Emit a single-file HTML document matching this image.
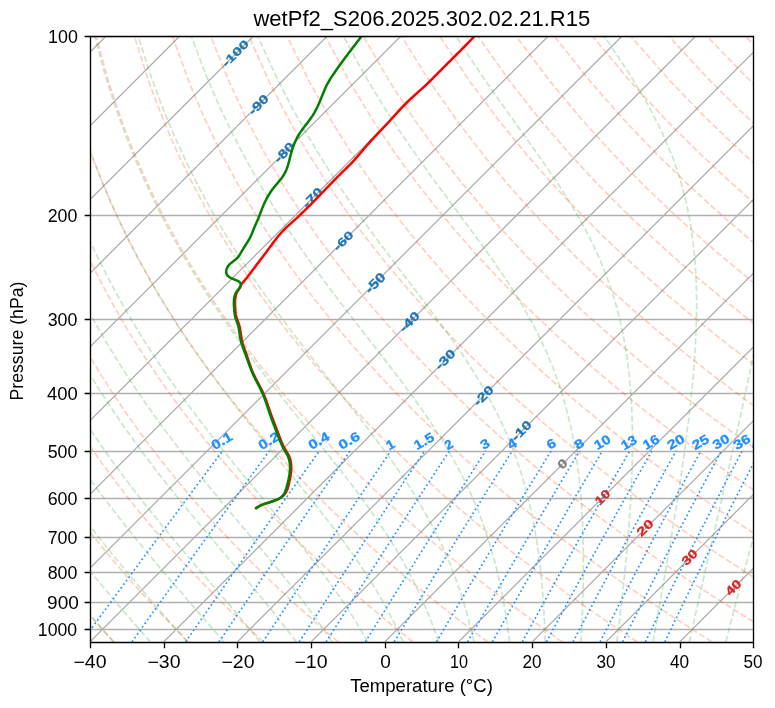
<!DOCTYPE html><html><head><meta charset="utf-8"><title>wetPf2_S206.2025.302.02.21.R15</title><style>html,body{margin:0;padding:0;background:#fff;width:775px;height:708px;overflow:hidden}svg{display:block;will-change:transform}text{font-family:"Liberation Sans",sans-serif}</style></head><body>
<svg width="775" height="708" viewBox="0 0 775 708">
<rect width="775" height="708" fill="#fff"/>
<defs><clipPath id="c"><rect x="89.9" y="36.25" width="663.4" height="605.67"/></clipPath></defs>
<g clip-path="url(#c)" fill="none">
<path d="M-573.5 641.92L32.17 36.25M-499.79 641.92L105.88 36.25M-426.08 641.92L179.59 36.25M-352.37 641.92L253.3 36.25M-278.66 641.92L327.01 36.25M-204.94 641.92L400.73 36.25M-131.23 641.92L474.44 36.25M-57.52 641.92L548.15 36.25M16.19 641.92L621.86 36.25M89.9 641.92L695.57 36.25M163.61 641.92L769.28 36.25M237.32 641.92L842.99 36.25M311.03 641.92L916.7 36.25M384.74 641.92L990.41 36.25M458.46 641.92L1064.13 36.25M532.17 641.92L1137.84 36.25M605.88 641.92L1211.55 36.25M679.59 641.92L1285.26 36.25M753.3 641.92L1358.97 36.25" stroke="#acacac" stroke-width="1.25"/>
<path d="M90.5 36.5H753.5M90.5 215.5H753.5M90.5 319.5H753.5M90.5 393.5H753.5M90.5 451.5H753.5M90.5 498.5H753.5M90.5 537.5H753.5M90.5 572.5H753.5M90.5 602.5H753.5M90.5 629.5H753.5" stroke="#b0b0b0" stroke-width="1.333"/>
<g stroke="#ff4500" stroke-opacity="0.25" stroke-width="1.667" stroke-dasharray="6.17 2.67">
<path d="M114.02 641.92 109.57 637.12 105.08 632.23 100.56 627.24 96 622.16 91.41 616.97 86.78 611.68 82.11 606.27 77.4 600.75 72.66 595.11 67.87 589.34 63.05 583.44 58.18 577.4 53.28 571.22 48.33 564.88 43.34 558.39 38.31 551.72 33.23 544.88 28.1 537.86 22.94 530.63 17.72 523.2 12.46 515.54 7.15 507.66 1.8 499.52 -1 495.17"/>
<path d="M188.77 641.92 183.92 637.12 179.03 632.23 174.1 627.24 169.13 622.16 164.11 616.97 159.05 611.68 153.95 606.27 148.81 600.75 143.62 595.11 138.38 589.34 133.1 583.44 127.77 577.4 122.39 571.22 116.95 564.88 111.47 558.39 105.93 551.72 100.35 544.88 94.7 537.86 89 530.63 83.24 523.2 77.43 515.54 71.56 507.66 65.62 499.52 59.63 491.12 53.57 482.43 47.45 473.44 41.27 464.13 35.03 454.46 28.72 444.42 22.34 433.98 15.91 423.09 9.41 411.72 2.85 399.82 -1 392.56"/>
<path d="M263.52 641.92 258.27 637.12 252.97 632.23 247.64 627.24 242.25 622.16 236.82 616.97 231.33 611.68 225.8 606.27 220.22 600.75 214.58 595.11 208.89 589.34 203.15 583.44 197.35 577.4 191.49 571.22 185.58 564.88 179.6 558.39 173.56 551.72 167.46 544.88 161.3 537.86 155.07 530.63 148.77 523.2 142.4 515.54 135.96 507.66 129.45 499.52 122.86 491.12 116.2 482.43 109.46 473.44 102.64 464.13 95.74 454.46 88.76 444.42 81.69 433.98 74.54 423.09 67.31 411.72 59.99 399.82 52.59 387.35 45.11 374.24 37.54 360.44 29.9 345.84 22.19 330.38 14.42 313.92 6.61 296.34 -1 278.04"/>
<path d="M338.26 641.92 332.62 637.12 326.92 632.23 321.17 627.24 315.38 622.16 309.52 616.97 303.61 611.68 297.65 606.27 291.63 600.75 285.55 595.11 279.41 589.34 273.2 583.44 266.93 577.4 260.6 571.22 254.2 564.88 247.73 558.39 241.19 551.72 234.58 544.88 227.9 537.86 221.13 530.63 214.29 523.2 207.37 515.54 200.36 507.66 193.27 499.52 186.09 491.12 178.83 482.43 171.46 473.44 164.01 464.13 156.45 454.46 148.8 444.42 141.04 433.98 133.18 423.09 125.21 411.72 117.14 399.82 108.95 387.35 100.65 374.24 92.24 360.44 83.72 345.84 75.1 330.38 66.37 313.92 57.55 296.34 48.66 277.47 39.7 257.11 30.71 235 21.74 210.82 12.86 184.12 4.18 154.34 -1 133.36"/>
<path d="M413.01 641.92 406.97 637.12 400.87 632.23 394.71 627.24 388.5 622.16 382.23 616.97 375.89 611.68 369.5 606.27 363.04 600.75 356.51 595.11 349.92 589.34 343.25 583.44 336.52 577.4 329.71 571.22 322.83 564.88 315.86 558.39 308.82 551.72 301.7 544.88 294.49 537.86 287.2 530.63 279.81 523.2 272.34 515.54 264.77 507.66 257.1 499.52 249.33 491.12 241.45 482.43 233.47 473.44 225.38 464.13 217.17 454.46 208.84 444.42 200.39 433.98 191.82 423.09 183.12 411.72 174.28 399.82 165.31 387.35 156.2 374.24 146.94 360.44 137.55 345.84 128.01 330.38 118.32 313.92 108.5 296.34 98.55 277.47 88.47 257.11 78.31 235 68.08 210.82 57.85 184.12 47.7 154.34 37.79 120.66 28.35 81.9 19.84 36.25"/>
<path d="M487.75 641.92 481.31 637.12 474.81 632.23 468.25 627.24 461.63 622.16 454.93 616.97 448.17 611.68 441.35 606.27 434.45 600.75 427.47 595.11 420.43 589.34 413.3 583.44 406.1 577.4 398.82 571.22 391.45 564.88 384 558.39 376.45 551.72 368.82 544.88 361.09 537.86 353.26 530.63 345.34 523.2 337.31 515.54 329.17 507.66 320.92 499.52 312.56 491.12 304.08 482.43 295.47 473.44 286.74 464.13 277.88 454.46 268.88 444.42 259.74 433.98 250.45 423.09 241.02 411.72 231.42 399.82 221.66 387.35 211.74 374.24 201.64 360.44 191.37 345.84 180.91 330.38 170.27 313.92 159.45 296.34 148.44 277.47 137.25 257.11 125.9 235 114.41 210.82 102.83 184.12 91.22 154.34 79.71 120.66 68.52 81.9 58.02 36.25"/>
<path d="M562.5 641.92 555.66 637.12 548.76 632.23 541.79 627.24 534.75 622.16 527.64 616.97 520.45 611.68 513.19 606.27 505.86 600.75 498.44 595.11 490.94 589.34 483.36 583.44 475.68 577.4 467.93 571.22 460.07 564.88 452.13 558.39 444.08 551.72 435.94 544.88 427.69 537.86 419.33 530.63 410.86 523.2 402.28 515.54 393.57 507.66 384.75 499.52 375.79 491.12 366.7 482.43 357.48 473.44 348.11 464.13 338.59 454.46 328.92 444.42 319.09 433.98 309.09 423.09 298.92 411.72 288.56 399.82 278.02 387.35 267.28 374.24 256.34 360.44 245.19 345.84 233.82 330.38 222.22 313.92 210.39 296.34 198.33 277.47 186.03 257.11 173.5 235 160.75 210.82 147.81 184.12 134.74 154.34 121.64 120.66 108.68 81.9 96.2 36.25"/>
<path d="M637.25 641.92 630.01 637.12 622.71 632.23 615.33 627.24 607.88 622.16 600.34 616.97 592.73 611.68 585.04 606.27 577.26 600.75 569.4 595.11 561.45 589.34 553.41 583.44 545.27 577.4 537.03 571.22 528.7 564.88 520.26 558.39 511.71 551.72 503.06 544.88 494.28 537.86 485.4 530.63 476.38 523.2 467.25 515.54 457.98 507.66 448.57 499.52 439.02 491.12 429.33 482.43 419.48 473.44 409.48 464.13 399.31 454.46 388.96 444.42 378.44 433.98 367.73 423.09 356.82 411.72 345.71 399.82 334.38 387.35 322.83 374.24 311.04 360.44 299.01 345.84 286.72 330.38 274.17 313.92 261.34 296.34 248.22 277.47 234.81 257.11 221.09 235 207.09 210.82 192.8 184.12 178.27 154.34 163.56 120.66 148.84 81.9 134.38 36.25"/>
<path d="M711.99 641.92 704.36 637.12 696.65 632.23 688.87 627.24 681 622.16 673.05 616.97 665.01 611.68 656.89 606.27 648.67 600.75 640.37 595.11 631.96 589.34 623.46 583.44 614.85 577.4 606.14 571.22 597.32 564.88 588.39 558.39 579.34 551.72 570.17 544.88 560.88 537.86 551.46 530.63 541.91 523.2 532.22 515.54 522.38 507.66 512.4 499.52 502.26 491.12 491.96 482.43 481.49 473.44 470.85 464.13 460.02 454.46 449 444.42 437.79 433.98 426.36 423.09 414.72 411.72 402.85 399.82 390.74 387.35 378.37 374.24 365.74 360.44 352.83 345.84 339.63 330.38 326.12 313.92 312.28 296.34 298.11 277.47 283.58 257.11 268.69 235 253.42 210.82 237.78 184.12 221.79 154.34 205.49 120.66 189 81.9 172.55 36.25"/>
<path d="M776 635.48 770.6 632.23 762.41 627.24 754.13 622.16 745.76 616.97 737.29 611.68 728.74 606.27 720.08 600.75 711.33 595.11 702.47 589.34 693.51 583.44 684.44 577.4 675.25 571.22 665.95 564.88 656.52 558.39 646.97 551.72 637.29 544.88 627.48 537.86 617.53 530.63 607.43 523.2 597.19 515.54 586.78 507.66 576.22 499.52 565.49 491.12 554.58 482.43 543.49 473.44 532.21 464.13 520.73 454.46 509.05 444.42 497.14 433.98 485 423.09 472.62 411.72 459.99 399.82 447.1 387.35 433.92 374.24 420.44 360.44 406.66 345.84 392.54 330.38 378.07 313.92 363.23 296.34 348 277.47 332.36 257.11 316.28 235 299.76 210.82 282.77 184.12 265.31 154.34 247.42 120.66 229.16 81.9 210.73 36.25"/>
<path d="M776 591.21 772.98 589.34 763.56 583.44 754.02 577.4 744.36 571.22 734.57 564.88 724.65 558.39 714.6 551.72 704.41 544.88 694.08 537.86 683.59 530.63 672.95 523.2 662.15 515.54 651.19 507.66 640.05 499.52 628.72 491.12 617.21 482.43 605.5 473.44 593.58 464.13 581.45 454.46 569.09 444.42 556.49 433.98 543.64 423.09 530.53 411.72 517.14 399.82 503.45 387.35 489.46 374.24 475.14 360.44 460.48 345.84 445.44 330.38 430.02 313.92 414.18 296.34 397.89 277.47 381.14 257.11 363.88 235 346.09 210.82 327.75 184.12 308.83 154.34 289.34 120.66 269.32 81.9 248.91 36.25"/>
<path d="M776 547.74 771.53 544.88 760.67 537.86 749.66 530.63 738.48 523.2 727.12 515.54 715.59 507.66 703.87 499.52 691.96 491.12 679.84 482.43 667.5 473.44 654.95 464.13 642.16 454.46 629.13 444.42 615.84 433.98 602.27 423.09 588.43 411.72 574.28 399.82 559.81 387.35 545.01 374.24 529.84 360.44 514.3 345.84 498.35 330.38 481.97 313.92 465.12 296.34 447.78 277.47 429.91 257.11 411.47 235 392.43 210.82 372.73 184.12 352.35 154.34 331.27 120.66 309.48 81.9 287.09 36.25"/>
<path d="M776 505.01 767.7 499.52 755.19 491.12 742.46 482.43 729.51 473.44 716.32 464.13 702.87 454.46 689.17 444.42 675.19 433.98 660.91 423.09 646.33 411.72 631.42 399.82 616.17 387.35 600.55 374.24 584.54 360.44 568.12 345.84 551.26 330.38 533.92 313.92 516.07 296.34 497.67 277.47 478.69 257.11 459.07 235 438.76 210.82 417.72 184.12 395.87 154.34 373.19 120.66 349.64 81.9 325.27 36.25"/>
<path d="M776 462.97 763.59 454.46 749.21 444.42 734.53 433.98 719.55 423.09 704.23 411.72 688.56 399.82 672.53 387.35 656.1 374.24 639.24 360.44 621.94 345.84 604.16 330.38 585.87 313.92 567.02 296.34 547.57 277.47 527.47 257.11 506.67 235 485.1 210.82 462.7 184.12 439.4 154.34 415.12 120.66 389.81 81.9 363.45 36.25"/>
<path d="M776 421.54 762.13 411.72 745.71 399.82 728.88 387.35 711.64 374.24 693.94 360.44 675.77 345.84 657.07 330.38 637.82 313.92 617.96 296.34 597.46 277.47 576.24 257.11 554.26 235 531.43 210.82 507.68 184.12 482.92 154.34 457.04 120.66 429.97 81.9 401.63 36.25"/>
<path d="M776 380.64 767.18 374.24 748.64 360.44 729.59 345.84 709.98 330.38 689.77 313.92 668.91 296.34 647.35 277.47 625.02 257.11 601.86 235 577.77 210.82 552.67 184.12 526.44 154.34 498.97 120.66 470.13 81.9 439.8 36.25"/>
<path d="M776 340.26 762.88 330.38 741.72 313.92 719.85 296.34 697.24 277.47 673.8 257.11 649.45 235 624.1 210.82 597.65 184.12 569.96 154.34 540.9 120.66 510.29 81.9 477.98 36.25"/>
<path d="M776 300.34 770.8 296.34 747.13 277.47 722.58 257.11 697.05 235 670.44 210.82 642.63 184.12 613.48 154.34 582.82 120.66 550.45 81.9 516.16 36.25"/>
<path d="M776 260.8 771.35 257.11 744.64 235 716.78 210.82 687.62 184.12 657 154.34 624.75 120.66 590.61 81.9 554.34 36.25"/>
<path d="M776 221.52 763.11 210.82 732.6 184.12 700.53 154.34 666.67 120.66 630.77 81.9 592.52 36.25"/>
<path d="M776 182.72 744.05 154.34 708.6 120.66 670.93 81.9 630.7 36.25"/>
<path d="M776 143.82 750.52 120.66 711.1 81.9 668.87 36.25"/>
<path d="M776 105.18 751.26 81.9 707.05 36.25"/>
<path d="M776 66.66 745.23 36.25"/>
</g>
<g stroke="#2ca02c" stroke-opacity="0.25" stroke-width="1.667" stroke-dasharray="6.17 2.67">
<path d="M113.36 641.92 109.77 637.8 106.14 633.61 102.47 629.35 99.07 625.39 95.64 621.37 92.17 617.29 88.67 613.14 85.14 608.92 81.58 604.63 77.98 600.27 74.34 595.83 70.68 591.31 66.98 586.72 63.25 582.04 59.48 577.28 55.68 572.42 51.85 567.47 47.99 562.43 44.1 557.28 40.17 552.03 36.21 546.67 32.22 541.19 28.19 535.6 24.14 529.88 20.05 524.04 15.93 518.05 11.77 511.93 7.59 505.66 3.37 499.22 -0.88 492.63 -1 492.43"/>
<path d="M150.35 641.92 146.73 637.8 143.05 633.61 139.32 629.35 135.87 625.39 132.37 621.37 128.83 617.29 125.26 613.14 121.63 608.92 117.97 604.63 114.27 600.27 110.53 595.83 106.75 591.31 102.92 586.72 99.06 582.04 95.16 577.28 91.21 572.42 87.23 567.47 83.21 562.43 79.15 557.28 75.06 552.03 70.92 546.67 66.74 541.19 62.53 535.6 58.28 529.88 53.99 524.04 49.66 518.05 45.3 511.93 40.89 505.66 36.45 499.22 31.97 492.63 27.45 485.86 22.9 478.91 18.31 471.76 13.68 464.42 9.02 456.85 4.31 449.06 -0.42 441.02 -1 440.02"/>
<path d="M187.17 641.92 183.57 637.8 179.9 633.61 176.18 629.35 172.72 625.39 169.2 621.37 165.64 617.29 162.02 613.14 158.35 608.92 154.64 604.63 150.87 600.27 147.05 595.83 143.19 591.31 139.27 586.72 135.31 582.04 131.3 577.28 127.24 572.42 123.13 567.47 118.97 562.43 114.77 557.28 110.52 552.03 106.22 546.67 101.87 541.19 97.48 535.6 93.05 529.88 88.57 524.04 84.04 518.05 79.47 511.93 74.85 505.66 70.19 499.22 65.48 492.63 60.73 485.86 55.93 478.91 51.09 471.76 46.21 464.42 41.28 456.85 36.31 449.06 31.29 441.02 26.24 432.73 21.14 424.16 16 415.29 10.81 406.11 5.59 396.59 0.33 386.7 -1 384.11"/>
<path d="M223.78 641.92 220.27 637.8 216.69 633.61 213.03 629.35 209.63 625.39 206.16 621.37 202.62 617.29 199.03 613.14 195.38 608.92 191.66 604.63 187.88 600.27 184.04 595.83 180.14 591.31 176.18 586.72 172.16 582.04 168.08 577.28 163.94 572.42 159.74 567.47 155.48 562.43 151.17 557.28 146.79 552.03 142.36 546.67 137.87 541.19 133.33 535.6 128.72 529.88 124.07 524.04 119.36 518.05 114.59 511.93 109.77 505.66 104.9 499.22 99.97 492.63 94.99 485.86 89.95 478.91 84.86 471.76 79.72 464.42 74.53 456.85 69.29 449.06 63.99 441.02 58.64 432.73 53.24 424.16 47.79 415.29 42.29 406.11 36.75 396.59 31.15 386.7 25.51 376.42 19.82 365.71 14.1 354.53 8.33 342.85 2.53 330.62 -1 322.83"/>
<path d="M260.13 641.92 256.8 637.8 253.39 633.61 249.89 629.35 246.61 625.39 243.26 621.37 239.84 617.29 236.35 613.14 232.78 608.92 229.14 604.63 225.42 600.27 221.63 595.83 217.76 591.31 213.82 586.72 209.81 582.04 205.72 577.28 201.56 572.42 197.33 567.47 193.02 562.43 188.64 557.28 184.18 552.03 179.66 546.67 175.07 541.19 170.4 535.6 165.67 529.88 160.87 524.04 155.99 518.05 151.06 511.93 146.05 505.66 140.98 499.22 135.84 492.63 130.64 485.86 125.38 478.91 120.05 471.76 114.65 464.42 109.2 456.85 103.68 449.06 98.1 441.02 92.45 432.73 86.75 424.16 80.98 415.29 75.16 406.11 69.27 396.59 63.33 386.7 57.33 376.42 51.27 365.71 45.16 354.53 39 342.85 32.79 330.62 26.53 317.77 20.24 304.25 13.92 289.98 7.58 274.88 1.24 258.83 -1 252.78"/>
<path d="M296.22 641.92 293.16 637.8 290 633.61 286.75 629.35 283.69 625.39 280.55 621.37 277.32 617.29 274.02 613.14 270.63 608.92 267.15 604.63 263.59 600.27 259.93 595.83 256.19 591.31 252.37 586.72 248.45 582.04 244.44 577.28 240.34 572.42 236.15 567.47 231.87 562.43 227.5 557.28 223.04 552.03 218.49 546.67 213.86 541.19 209.13 535.6 204.32 529.88 199.42 524.04 194.43 518.05 189.36 511.93 184.21 505.66 178.97 499.22 173.66 492.63 168.26 485.86 162.78 478.91 157.22 471.76 151.58 464.42 145.87 456.85 140.08 449.06 134.21 441.02 128.27 432.73 122.25 424.16 116.16 415.29 110 406.11 103.76 396.59 97.46 386.7 91.08 376.42 84.63 365.71 78.11 354.53 71.53 342.85 64.89 330.62 58.18 317.77 51.42 304.25 44.61 289.98 37.76 274.88 30.88 258.83 24 241.71 17.12 223.38 10.28 203.64 3.52 182.26 -1 166.35"/>
<path d="M332.05 641.92 329.33 637.8 326.51 633.61 323.6 629.35 320.85 625.39 318.01 621.37 315.08 617.29 312.06 613.14 308.95 608.92 305.75 604.63 302.44 600.27 299.04 595.83 295.54 591.31 291.93 586.72 288.22 582.04 284.41 577.28 280.49 572.42 276.46 567.47 272.32 562.43 268.07 557.28 263.71 552.03 259.24 546.67 254.65 541.19 249.96 535.6 245.16 529.88 240.25 524.04 235.23 518.05 230.1 511.93 224.86 505.66 219.52 499.22 214.07 492.63 208.52 485.86 202.86 478.91 197.11 471.76 191.26 464.42 185.31 456.85 179.26 449.06 173.12 441.02 166.88 432.73 160.55 424.16 154.13 415.29 147.62 406.11 141.02 396.59 134.33 386.7 127.55 376.42 120.69 365.71 113.74 354.53 106.71 342.85 99.6 330.62 92.41 317.77 85.14 304.25 77.8 289.98 70.41 274.88 62.95 258.83 55.46 241.71 47.95 223.38 40.44 203.64 32.98 182.26 25.61 158.95 18.4 133.31 11.48 104.84 5.01 72.82 -0.74 36.25"/>
<path d="M367.67 641.92 365.36 637.8 362.95 633.61 360.46 629.35 358.09 625.39 355.63 621.37 353.09 617.29 350.45 613.14 347.72 608.92 344.9 604.63 341.97 600.27 338.94 595.83 335.8 591.31 332.55 586.72 329.18 582.04 325.7 577.28 322.09 572.42 318.37 567.47 314.51 562.43 310.53 557.28 306.42 552.03 302.18 546.67 297.8 541.19 293.28 535.6 288.63 529.88 283.84 524.04 278.91 518.05 273.85 511.93 268.65 505.66 263.3 499.22 257.83 492.63 252.22 485.86 246.47 478.91 240.59 471.76 234.59 464.42 228.45 456.85 222.19 449.06 215.8 441.02 209.3 432.73 202.67 424.16 195.93 415.29 189.07 406.11 182.09 396.59 175.01 386.7 167.81 376.42 160.51 365.71 153.1 354.53 145.58 342.85 137.96 330.62 130.24 317.77 122.41 304.25 114.5 289.98 106.5 274.88 98.41 258.83 90.25 241.71 82.04 223.38 73.8 203.64 65.55 182.26 57.35 158.95 49.26 133.31 41.38 104.84 33.86 72.82 26.97 36.25"/>
<path d="M403.13 641.92 401.27 637.8 399.34 633.61 397.31 629.35 395.38 625.39 393.38 621.37 391.29 617.29 389.12 613.14 386.85 608.92 384.5 604.63 382.05 600.27 379.49 595.83 376.84 591.31 374.07 586.72 371.18 582.04 368.18 577.28 365.05 572.42 361.79 567.47 358.39 562.43 354.86 557.28 351.18 552.03 347.35 546.67 343.37 541.19 339.23 535.6 334.94 529.88 330.47 524.04 325.84 518.05 321.04 511.93 316.06 505.66 310.91 499.22 305.59 492.63 300.09 485.86 294.41 478.91 288.56 471.76 282.53 464.42 276.33 456.85 269.96 449.06 263.43 441.02 256.73 432.73 249.86 424.16 242.84 415.29 235.66 406.11 228.34 396.59 220.86 386.7 213.24 376.42 205.47 365.71 197.57 354.53 189.53 342.85 181.35 330.62 173.04 317.77 164.61 304.25 156.05 289.98 147.36 274.88 138.56 258.83 129.66 241.71 120.65 223.38 111.58 203.64 102.44 182.26 93.3 158.95 84.2 133.31 75.23 104.84 66.54 72.82 58.34 36.25"/>
<path d="M438.53 641.92 437.15 637.8 435.69 633.61 434.17 629.35 432.71 625.39 431.18 621.37 429.59 617.29 427.93 613.14 426.19 608.92 424.37 604.63 422.46 600.27 420.47 595.83 418.38 591.31 416.19 586.72 413.89 582.04 411.49 577.28 408.97 572.42 406.32 567.47 403.55 562.43 400.64 557.28 397.59 552.03 394.38 546.67 391.02 541.19 387.5 535.6 383.8 529.88 379.92 524.04 375.85 518.05 371.59 511.93 367.13 505.66 362.46 499.22 357.58 492.63 352.48 485.86 347.16 478.91 341.61 471.76 335.83 464.42 329.81 456.85 323.57 449.06 317.1 441.02 310.4 432.73 303.47 424.16 296.31 415.29 288.94 406.11 281.35 396.59 273.56 386.7 265.55 376.42 257.35 365.71 248.96 354.53 240.38 342.85 231.61 330.62 222.67 317.77 213.55 304.25 204.26 289.98 194.8 274.88 185.19 258.83 175.42 241.71 165.5 223.38 155.46 203.64 145.3 182.26 135.07 158.95 124.8 133.31 114.57 104.84 104.5 72.82 94.8 36.25"/>
<path d="M473.95 641.92 473.03 637.8 472.05 633.61 471.02 629.35 470.03 625.39 468.99 621.37 467.9 617.29 466.76 613.14 465.55 608.92 464.28 604.63 462.95 600.27 461.54 595.83 460.06 591.31 458.5 586.72 456.86 582.04 455.12 577.28 453.29 572.42 451.36 567.47 449.31 562.43 447.15 557.28 444.87 552.03 442.45 546.67 439.89 541.19 437.18 535.6 434.31 529.88 431.26 524.04 428.04 518.05 424.62 511.93 421 505.66 417.17 499.22 413.1 492.63 408.79 485.86 404.24 478.91 399.41 471.76 394.32 464.42 388.93 456.85 383.25 449.06 377.27 441.02 370.98 432.73 364.38 424.16 357.46 415.29 350.22 406.11 342.67 396.59 334.8 386.7 326.63 376.42 318.16 365.71 309.4 354.53 300.35 342.85 291.04 330.62 281.46 317.77 271.62 304.25 261.54 289.98 251.23 274.88 240.68 258.83 229.91 241.71 218.93 223.38 207.75 203.64 196.38 182.26 184.84 158.95 173.18 133.31 161.45 104.84 149.75 72.82 138.24 36.25"/>
<path d="M509.47 641.92 508.97 637.8 508.44 633.61 507.88 629.35 507.33 625.39 506.75 621.37 506.13 617.29 505.48 613.14 504.79 608.92 504.05 604.63 503.26 600.27 502.43 595.83 501.55 591.31 500.61 586.72 499.61 582.04 498.54 577.28 497.41 572.42 496.2 567.47 494.91 562.43 493.53 557.28 492.06 552.03 490.49 546.67 488.81 541.19 487.02 535.6 485.09 529.88 483.04 524.04 480.83 518.05 478.47 511.93 475.93 505.66 473.21 499.22 470.28 492.63 467.14 485.86 463.76 478.91 460.12 471.76 456.21 464.42 452.01 456.85 447.49 449.06 442.64 441.02 437.43 432.73 431.84 424.16 425.85 415.29 419.44 406.11 412.6 396.59 405.32 386.7 397.58 376.42 389.38 365.71 380.73 354.53 371.62 342.85 362.07 330.62 352.1 317.77 341.7 304.25 330.91 289.98 319.74 274.88 308.2 258.83 296.32 241.71 284.11 223.38 271.59 203.64 258.77 182.26 245.67 158.95 232.31 133.31 218.75 104.84 205.05 72.82 191.35 36.25"/>
<path d="M545.12 641.92 545.01 637.8 544.88 633.61 544.73 629.35 544.58 625.39 544.41 621.37 544.22 617.29 544.01 613.14 543.78 608.92 543.52 604.63 543.23 600.27 542.92 595.83 542.57 591.31 542.19 586.72 541.78 582.04 541.33 577.28 540.83 572.42 540.29 567.47 539.7 562.43 539.06 557.28 538.36 552.03 537.6 546.67 536.76 541.19 535.85 535.6 534.86 529.88 533.78 524.04 532.6 518.05 531.31 511.93 529.91 505.66 528.38 499.22 526.7 492.63 524.87 485.86 522.86 478.91 520.66 471.76 518.26 464.42 515.62 456.85 512.72 449.06 509.53 441.02 506.04 432.73 502.19 424.16 497.96 415.29 493.31 406.11 488.2 396.59 482.59 386.7 476.43 376.42 469.68 365.71 462.31 354.53 454.27 342.85 445.55 330.62 436.13 317.77 425.99 304.25 415.15 289.98 403.62 274.88 391.43 258.83 378.61 241.71 365.2 223.38 351.24 203.64 336.76 182.26 321.79 158.95 306.38 133.31 290.55 104.84 274.36 72.82 257.91 36.25"/>
<path d="M580.93 641.92 581.16 637.8 581.38 633.61 581.59 629.35 581.78 625.39 581.96 621.37 582.14 617.29 582.31 613.14 582.47 608.92 582.62 604.63 582.76 600.27 582.89 595.83 583 591.31 583.11 586.72 583.19 582.04 583.26 577.28 583.32 572.42 583.35 567.47 583.36 562.43 583.34 557.28 583.3 552.03 583.23 546.67 583.12 541.19 582.97 535.6 582.79 529.88 582.56 524.04 582.28 518.05 581.95 511.93 581.55 505.66 581.08 499.22 580.54 492.63 579.91 485.86 579.18 478.91 578.34 471.76 577.38 464.42 576.29 456.85 575.04 449.06 573.62 441.02 571.99 432.73 570.14 424.16 568.03 415.29 565.64 406.11 562.9 396.59 559.79 386.7 556.23 376.42 552.18 365.71 547.55 354.53 542.28 342.85 536.26 330.62 529.4 317.77 521.62 304.25 512.81 289.98 502.9 274.88 491.82 258.83 479.53 241.71 466.04 223.38 451.38 203.64 435.62 182.26 418.85 158.95 401.16 133.31 382.63 104.84 363.36 72.82 343.43 36.25"/>
<path d="M616.92 641.92 617.43 637.8 617.93 633.61 618.45 629.35 618.92 625.39 619.39 621.37 619.87 617.29 620.35 613.14 620.84 608.92 621.33 604.63 621.82 600.27 622.31 595.83 622.8 591.31 623.29 586.72 623.79 582.04 624.28 577.28 624.78 572.42 625.28 567.47 625.77 562.43 626.26 557.28 626.75 552.03 627.23 546.67 627.7 541.19 628.17 535.6 628.63 529.88 629.08 524.04 629.52 518.05 629.94 511.93 630.34 505.66 630.73 499.22 631.09 492.63 631.42 485.86 631.72 478.91 631.97 471.76 632.19 464.42 632.35 456.85 632.45 449.06 632.47 441.02 632.42 432.73 632.27 424.16 632 415.29 631.6 406.11 631.04 396.59 630.3 386.7 629.33 376.42 628.11 365.71 626.57 354.53 624.66 342.85 622.29 330.62 619.39 317.77 615.82 304.25 611.45 289.98 606.12 274.88 599.61 258.83 591.7 241.71 582.11 223.38 570.61 203.64 556.95 182.26 541 158.95 522.76 133.31 502.34 104.84 479.99 72.82 455.96 36.25"/>
<path d="M653.08 641.92 653.81 637.8 654.55 633.61 655.3 629.35 656 625.39 656.71 621.37 657.43 617.29 658.16 613.14 658.91 608.92 659.66 604.63 660.43 600.27 661.21 595.83 662 591.31 662.8 586.72 663.61 582.04 664.44 577.28 665.28 572.42 666.14 567.47 667 562.43 667.89 557.28 668.78 552.03 669.69 546.67 670.61 541.19 671.55 535.6 672.5 529.88 673.46 524.04 674.44 518.05 675.43 511.93 676.43 505.66 677.45 499.22 678.48 492.63 679.52 485.86 680.57 478.91 681.63 471.76 682.7 464.42 683.78 456.85 684.86 449.06 685.94 441.02 687.02 432.73 688.1 424.16 689.16 415.29 690.21 406.11 691.24 396.59 692.22 386.7 693.16 376.42 694.04 365.71 694.83 354.53 695.52 342.85 696.08 330.62 696.45 317.77 696.59 304.25 696.44 289.98 695.89 274.88 694.83 258.83 693.08 241.71 690.43 223.38 686.57 203.64 681.05 182.26 673.32 158.95 662.6 133.31 648.02 104.84 628.74 72.82 604.31 36.25"/>
<path d="M689.39 641.92 690.29 637.8 691.22 633.61 692.16 629.35 693.03 625.39 693.93 621.37 694.84 617.29 695.76 613.14 696.71 608.92 697.67 604.63 698.65 600.27 699.64 595.83 700.66 591.31 701.7 586.72 702.75 582.04 703.83 577.28 704.93 572.42 706.06 567.47 707.21 562.43 708.38 557.28 709.58 552.03 710.81 546.67 712.06 541.19 713.34 535.6 714.66 529.88 716 524.04 717.37 518.05 718.77 511.93 720.21 505.66 721.68 499.22 723.18 492.63 724.73 485.86 726.31 478.91 727.94 471.76 729.61 464.42 731.32 456.85 733.08 449.06 734.89 441.02 736.74 432.73 738.65 424.16 740.61 415.29 742.62 406.11 744.69 396.59 746.81 386.7 748.99 376.42 751.23 365.71 753.53 354.53 755.88 342.85 758.29 330.62 760.74 317.77 763.23 304.25 765.76 289.98 768.29 274.88 770.81 258.83 773.26 241.71 775.6 223.38 776 219.64"/>
<path d="M776 75.95 775.61 72.82 767.29 36.25"/>
<path d="M725.83 641.92 726.87 637.8 727.93 633.61 729.01 629.35 730.02 625.39 731.05 621.37 732.11 617.29 733.18 613.14 734.27 608.92 735.39 604.63 736.52 600.27 737.69 595.83 738.87 591.31 740.08 586.72 741.32 582.04 742.58 577.28 743.88 572.42 745.2 567.47 746.56 562.43 747.94 557.28 749.36 552.03 750.82 546.67 752.31 541.19 753.84 535.6 755.4 529.88 757.01 524.04 758.66 518.05 760.35 511.93 762.09 505.66 763.89 499.22 765.73 492.63 767.62 485.86 769.58 478.91 771.59 471.76 773.67 464.42 775.81 456.85 776 456.2"/>
<path d="M762.38 641.92 763.52 637.8 764.68 633.61 765.87 629.35 766.98 625.39 768.11 621.37 769.26 617.29 770.44 613.14 771.64 608.92 772.87 604.63 774.12 600.27 775.4 595.83 776 593.75"/>
</g>
<g stroke="#1e90ff" stroke-width="1.667" stroke-dasharray="1.667 2.75">
<path d="M81.71 641.92 85.12 637.22 88.61 632.44 92.16 627.57 95.78 622.6 99.48 617.54 103.25 612.37 107.1 607.1 111.04 601.72 115.06 596.22 119.17 590.61 123.38 584.87 127.69 578.99 132.1 572.98 136.62 566.83 141.25 560.53 146.01 554.06 150.89 547.44 155.9 540.63 161.06 533.64 166.36 526.46 171.82 519.07 177.45 511.47 183.25 503.63 189.25 495.54 195.44 487.2 201.84 478.57 208.48 469.65 215.36 460.4 222.51 450.81"/>
<path d="M131.98 641.92 135.3 637.22 138.7 632.44 142.16 627.57 145.69 622.6 149.29 617.54 152.97 612.37 156.72 607.1 160.56 601.72 164.48 596.22 168.49 590.61 172.6 584.87 176.8 578.99 181.1 572.98 185.51 566.83 190.03 560.53 194.67 554.06 199.44 547.44 204.33 540.63 209.36 533.64 214.54 526.46 219.87 519.07 225.37 511.47 231.03 503.63 236.89 495.54 242.94 487.2 249.2 478.57 255.68 469.65 262.41 460.4 269.39 450.81"/>
<path d="M185.74 641.92 188.97 637.22 192.26 632.44 195.62 627.57 199.05 622.6 202.55 617.54 206.12 612.37 209.77 607.1 213.5 601.72 217.31 596.22 221.21 590.61 225.2 584.87 229.28 578.99 233.47 572.98 237.75 566.83 242.15 560.53 246.66 554.06 251.3 547.44 256.06 540.63 260.96 533.64 265.99 526.46 271.18 519.07 276.53 511.47 282.05 503.63 287.75 495.54 293.64 487.2 299.74 478.57 306.05 469.65 312.6 460.4 319.41 450.81"/>
<path d="M218.95 641.92 222.12 637.22 225.35 632.44 228.65 627.57 232.01 622.6 235.44 617.54 238.95 612.37 242.53 607.1 246.19 601.72 249.93 596.22 253.76 590.61 257.67 584.87 261.68 578.99 265.79 572.98 270 566.83 274.32 560.53 278.75 554.06 283.3 547.44 287.98 540.63 292.79 533.64 297.74 526.46 302.84 519.07 308.09 511.47 313.52 503.63 319.12 495.54 324.91 487.2 330.9 478.57 337.11 469.65 343.56 460.4 350.25 450.81"/>
<path d="M262.79 641.92 265.87 637.22 269.02 632.44 272.23 627.57 275.51 622.6 278.86 617.54 282.27 612.37 285.76 607.1 289.33 601.72 292.97 596.22 296.7 590.61 300.52 584.87 304.43 578.99 308.43 572.98 312.54 566.83 316.75 560.53 321.08 554.06 325.52 547.44 330.08 540.63 334.77 533.64 339.6 526.46 344.58 519.07 349.71 511.47 355.01 503.63 360.48 495.54 366.13 487.2 371.99 478.57 378.05 469.65 384.35 460.4 390.89 450.81"/>
<path d="M299.27 641.92 302.29 637.22 305.37 632.44 308.51 627.57 311.71 622.6 314.98 617.54 318.32 612.37 321.73 607.1 325.21 601.72 328.78 596.22 332.43 590.61 336.16 584.87 339.98 578.99 343.9 572.98 347.92 566.83 352.04 560.53 356.27 554.06 360.62 547.44 365.08 540.63 369.68 533.64 374.41 526.46 379.28 519.07 384.3 511.47 389.49 503.63 394.85 495.54 400.39 487.2 406.13 478.57 412.07 469.65 418.24 460.4 424.65 450.81"/>
<path d="M326.12 641.92 329.08 637.22 332.11 632.44 335.19 627.57 338.34 622.6 341.55 617.54 344.83 612.37 348.18 607.1 351.61 601.72 355.12 596.22 358.7 590.61 362.37 584.87 366.13 578.99 369.98 572.98 373.94 566.83 377.99 560.53 382.15 554.06 386.42 547.44 390.82 540.63 395.34 533.64 399.99 526.46 404.79 519.07 409.73 511.47 414.84 503.63 420.11 495.54 425.57 487.2 431.21 478.57 437.07 469.65 443.14 460.4 449.46 450.81"/>
<path d="M365.37 641.92 368.26 637.22 371.2 632.44 374.2 627.57 377.27 622.6 380.4 617.54 383.59 612.37 386.86 607.1 390.2 601.72 393.61 596.22 397.1 590.61 400.68 584.87 404.35 578.99 408.1 572.98 411.95 566.83 415.91 560.53 419.96 554.06 424.13 547.44 428.42 540.63 432.83 533.64 437.37 526.46 442.05 519.07 446.88 511.47 451.86 503.63 457.01 495.54 462.33 487.2 467.85 478.57 473.57 469.65 479.51 460.4 485.68 450.81"/>
<path d="M394.27 641.92 397.1 637.22 399.98 632.44 402.92 627.57 405.92 622.6 408.99 617.54 412.12 612.37 415.32 607.1 418.59 601.72 421.94 596.22 425.36 590.61 428.87 584.87 432.46 578.99 436.15 572.98 439.92 566.83 443.8 560.53 447.78 554.06 451.87 547.44 456.08 540.63 460.4 533.64 464.86 526.46 469.45 519.07 474.19 511.47 479.08 503.63 484.14 495.54 489.37 487.2 494.79 478.57 500.4 469.65 506.24 460.4 512.3 450.81"/>
<path d="M436.54 641.92 439.27 637.22 442.07 632.44 444.92 627.57 447.82 622.6 450.8 617.54 453.83 612.37 456.93 607.1 460.11 601.72 463.35 596.22 466.68 590.61 470.08 584.87 473.56 578.99 477.14 572.98 480.8 566.83 484.57 560.53 488.43 554.06 492.4 547.44 496.49 540.63 500.69 533.64 505.02 526.46 509.49 519.07 514.09 511.47 518.85 503.63 523.77 495.54 528.86 487.2 534.13 478.57 539.59 469.65 545.27 460.4 551.17 450.81"/>
<path d="M467.64 641.92 470.31 637.22 473.04 632.44 475.82 627.57 478.66 622.6 481.56 617.54 484.52 612.37 487.55 607.1 490.65 601.72 493.82 596.22 497.07 590.61 500.39 584.87 503.8 578.99 507.29 572.98 510.87 566.83 514.55 560.53 518.33 554.06 522.21 547.44 526.21 540.63 530.32 533.64 534.56 526.46 538.92 519.07 543.43 511.47 548.08 503.63 552.9 495.54 557.88 487.2 563.04 478.57 568.39 469.65 573.95 460.4 579.74 450.81"/>
<path d="M492.42 641.92 495.04 637.22 497.71 632.44 500.43 627.57 503.22 622.6 506.06 617.54 508.97 612.37 511.94 607.1 514.97 601.72 518.08 596.22 521.27 590.61 524.53 584.87 527.87 578.99 531.3 572.98 534.81 566.83 538.42 560.53 542.13 554.06 545.94 547.44 549.86 540.63 553.9 533.64 558.06 526.46 562.35 519.07 566.78 511.47 571.35 503.63 576.08 495.54 580.97 487.2 586.05 478.57 591.31 469.65 596.77 460.4 602.46 450.81"/>
<path d="M522.29 641.92 524.84 637.22 527.44 632.44 530.1 627.57 532.81 622.6 535.59 617.54 538.42 612.37 541.32 607.1 544.28 601.72 547.32 596.22 550.42 590.61 553.61 584.87 556.87 578.99 560.22 572.98 563.65 566.83 567.18 560.53 570.8 554.06 574.53 547.44 578.36 540.63 582.3 533.64 586.37 526.46 590.56 519.07 594.89 511.47 599.37 503.63 603.99 495.54 608.78 487.2 613.75 478.57 618.9 469.65 624.25 460.4 629.82 450.81"/>
<path d="M546.48 641.92 548.98 637.22 551.52 632.44 554.13 627.57 556.78 622.6 559.5 617.54 562.28 612.37 565.11 607.1 568.02 601.72 570.99 596.22 574.04 590.61 577.16 584.87 580.35 578.99 583.63 572.98 587 566.83 590.46 560.53 594.01 554.06 597.66 547.44 601.42 540.63 605.3 533.64 609.29 526.46 613.4 519.07 617.65 511.47 622.04 503.63 626.58 495.54 631.29 487.2 636.16 478.57 641.22 469.65 646.48 460.4 651.95 450.81"/>
<path d="M573.01 641.92 575.45 637.22 577.94 632.44 580.48 627.57 583.07 622.6 585.73 617.54 588.44 612.37 591.21 607.1 594.05 601.72 596.95 596.22 599.93 590.61 602.98 584.87 606.1 578.99 609.31 572.98 612.6 566.83 615.98 560.53 619.46 554.06 623.03 547.44 626.71 540.63 630.5 533.64 634.4 526.46 638.43 519.07 642.59 511.47 646.89 503.63 651.34 495.54 655.95 487.2 660.72 478.57 665.68 469.65 670.83 460.4 676.2 450.81"/>
<path d="M600.09 641.92 602.46 637.22 604.89 632.44 607.36 627.57 609.89 622.6 612.48 617.54 615.12 612.37 617.83 607.1 620.6 601.72 623.43 596.22 626.33 590.61 629.31 584.87 632.36 578.99 635.49 572.98 638.71 566.83 642.01 560.53 645.4 554.06 648.9 547.44 652.49 540.63 656.19 533.64 660.01 526.46 663.95 519.07 668.02 511.47 672.22 503.63 676.58 495.54 681.08 487.2 685.76 478.57 690.61 469.65 695.66 460.4 700.91 450.81"/>
<path d="M622.58 641.92 624.91 637.22 627.28 632.44 629.7 627.57 632.18 622.6 634.71 617.54 637.3 612.37 639.94 607.1 642.65 601.72 645.43 596.22 648.27 590.61 651.19 584.87 654.18 578.99 657.24 572.98 660.39 566.83 663.63 560.53 666.96 554.06 670.38 547.44 673.9 540.63 677.53 533.64 681.28 526.46 685.14 519.07 689.13 511.47 693.26 503.63 697.53 495.54 701.95 487.2 706.54 478.57 711.31 469.65 716.26 460.4 721.42 450.81"/>
<path d="M645.4 641.92 647.67 637.22 649.98 632.44 652.35 627.57 654.77 622.6 657.25 617.54 659.78 612.37 662.36 607.1 665.01 601.72 667.73 596.22 670.51 590.61 673.36 584.87 676.29 578.99 679.29 572.98 682.37 566.83 685.54 560.53 688.8 554.06 692.15 547.44 695.6 540.63 699.16 533.64 702.83 526.46 706.61 519.07 710.52 511.47 714.57 503.63 718.76 495.54 723.1 487.2 727.6 478.57 732.27 469.65 737.14 460.4 742.2 450.81"/>
<path d="M664.91 641.92 667.13 637.22 669.4 632.44 671.72 627.57 674.09 622.6 676.52 617.54 679 612.37 681.54 607.1 684.13 601.72 686.8 596.22 689.52 590.61 692.32 584.87 695.19 578.99 698.14 572.98 701.16 566.83 704.27 560.53 707.47 554.06 710.76 547.44 714.15 540.63 717.64 533.64 721.25 526.46 724.97 519.07 728.81 511.47 732.78 503.63 736.9 495.54 741.17 487.2 745.59 478.57 750.19 469.65 754.97 460.4 759.95 450.81"/>
</g>
<text transform="translate(221.98 440.47) rotate(-30) translate(-11.25 4.72) scale(1.2119 1)" font-size="13.1" font-weight="bold" stroke="#1e90ff" stroke-width="0.3" fill="#1e90ff">0.1</text>
<text transform="translate(268.98 440.47) rotate(-30) translate(-11.41 4.67) scale(1.2273 1)" font-size="13.1" font-weight="bold" stroke="#1e90ff" stroke-width="0.3" fill="#1e90ff">0.2</text>
<text transform="translate(319.08 440.5) rotate(-30) translate(-11.35 4.52) scale(1.2187 1)" font-size="13.01" font-weight="bold" stroke="#1e90ff" stroke-width="0.3" fill="#1e90ff">0.4</text>
<text transform="translate(349.28 440.36) rotate(-30) translate(-11.57 4.55) scale(1.2706 1)" font-size="12.89" font-weight="bold" stroke="#1e90ff" stroke-width="0.3" fill="#1e90ff">0.6</text>
<text transform="translate(390.67 444.19) rotate(-30) translate(-4.4 4.71) scale(1.0641 1)" font-size="13.18" font-weight="bold" stroke="#1e90ff" stroke-width="0.3" fill="#1e90ff">1</text>
<text transform="translate(424.35 440.88) rotate(-30) translate(-11.06 4.56) scale(1.1730 1)" font-size="13.02" font-weight="bold" stroke="#1e90ff" stroke-width="0.3" fill="#1e90ff">1.5</text>
<text transform="translate(448.67 444.19) rotate(-30) translate(-3.86 4.72) scale(1.0191 1)" font-size="13.02" font-weight="bold" stroke="#1e90ff" stroke-width="0.3" fill="#1e90ff">2</text>
<text transform="translate(485.28 443.76) rotate(-30) translate(-4.68 4.39) scale(1.1813 1)" font-size="13.01" font-weight="bold" stroke="#1e90ff" stroke-width="0.3" fill="#1e90ff">3</text>
<text transform="translate(512.32 443.68) rotate(-30) translate(-4.56 4.77) scale(1.0680 1)" font-size="14.12" font-weight="bold" stroke="#1e90ff" stroke-width="0.3" fill="#1e90ff">4</text>
<text transform="translate(551.5 443.5) rotate(-30) translate(-4.67 4.52) scale(1.1992 1)" font-size="12.87" font-weight="bold" stroke="#1e90ff" stroke-width="0.3" fill="#1e90ff">6</text>
<text transform="translate(579.44 443.53) rotate(-30) translate(-4.96 4.65) scale(1.2511 1)" font-size="12.87" font-weight="bold" stroke="#1e90ff" stroke-width="0.3" fill="#1e90ff">8</text>
<text transform="translate(602.49 441.98) rotate(-30) translate(-8.81 4.56) scale(1.1647 1)" font-size="13.02" font-weight="bold" stroke="#1e90ff" stroke-width="0.3" fill="#1e90ff">10</text>
<text transform="translate(629.22 442.14) rotate(-30) translate(-8.57 4.71) scale(1.1035 1)" font-size="13.02" font-weight="bold" stroke="#1e90ff" stroke-width="0.3" fill="#1e90ff">13</text>
<text transform="translate(651.38 441.93) rotate(-30) translate(-8.86 4.49) scale(1.1350 1)" font-size="13.27" font-weight="bold" stroke="#1e90ff" stroke-width="0.3" fill="#1e90ff">16</text>
<text transform="translate(675.98 441.59) rotate(-30) translate(-9.37 4.64) scale(1.2587 1)" font-size="12.96" font-weight="bold" stroke="#1e90ff" stroke-width="0.3" fill="#1e90ff">20</text>
<text transform="translate(700.76 441.72) rotate(-30) translate(-9.01 4.76) scale(1.1806 1)" font-size="13.04" font-weight="bold" stroke="#1e90ff" stroke-width="0.3" fill="#1e90ff">25</text>
<text transform="translate(721.17 441.42) rotate(-30) translate(-8.89 4.64) scale(1.1848 1)" font-size="13.1" font-weight="bold" stroke="#1e90ff" stroke-width="0.3" fill="#1e90ff">30</text>
<text transform="translate(742.16 441.41) rotate(-30) translate(-9.36 4.76) scale(1.2160 1)" font-size="13.06" font-weight="bold" stroke="#1e90ff" stroke-width="0.3" fill="#1e90ff">36</text>
<text transform="translate(758.75 441.7) rotate(-30) translate(-8.34 4.7) scale(1.1069 1)" font-size="13.31" font-weight="bold" stroke="#1e90ff" stroke-width="0.3" fill="#1e90ff">42</text>
<text transform="translate(235.71 53) rotate(-45) translate(-17.01 3.93) scale(1.4280 1)" font-size="11.44" font-weight="bold" stroke="#1f77b4" stroke-width="0.3" fill="#1f77b4">-100</text>
<text transform="translate(258.46 104.25) rotate(-45) translate(-12.03 4.57) scale(1.3157 1)" font-size="12.29" font-weight="bold" stroke="#1f77b4" stroke-width="0.3" fill="#1f77b4">-90</text>
<text transform="translate(284.46 152.25) rotate(-45) translate(-12.03 4.22) scale(1.3157 1)" font-size="12.29" font-weight="bold" stroke="#1f77b4" stroke-width="0.3" fill="#1f77b4">-80</text>
<text transform="translate(312.46 197.25) rotate(-45) translate(-11.96 4.57) scale(1.3073 1)" font-size="12.29" font-weight="bold" stroke="#1f77b4" stroke-width="0.3" fill="#1f77b4">-70</text>
<text transform="translate(343.46 240.25) rotate(-45) translate(-11.9 4.28) scale(1.3982 1)" font-size="11.44" font-weight="bold" stroke="#1f77b4" stroke-width="0.3" fill="#1f77b4">-60</text>
<text transform="translate(375.46 282.25) rotate(-45) translate(-12.25 4.91) scale(1.2031 1)" font-size="13.28" font-weight="bold" stroke="#1f77b4" stroke-width="0.3" fill="#1f77b4">-50</text>
<text transform="translate(409.46 321.25) rotate(-45) translate(-11.96 4.57) scale(1.3073 1)" font-size="12.29" font-weight="bold" stroke="#1f77b4" stroke-width="0.3" fill="#1f77b4">-40</text>
<text transform="translate(445.46 359.25) rotate(-45) translate(-12.03 4.22) scale(1.3157 1)" font-size="12.29" font-weight="bold" stroke="#1f77b4" stroke-width="0.3" fill="#1f77b4">-30</text>
<text transform="translate(483.46 395.25) rotate(-45) translate(-11.96 4.57) scale(1.3073 1)" font-size="12.29" font-weight="bold" stroke="#1f77b4" stroke-width="0.3" fill="#1f77b4">-20</text>
<text transform="translate(521.46 430.25) rotate(-45) translate(-11.96 4.57) scale(1.3073 1)" font-size="12.29" font-weight="bold" stroke="#1f77b4" stroke-width="0.3" fill="#1f77b4">-10</text>
<text transform="translate(562.46 463.25) rotate(-45) translate(-4.82 4.57) scale(1.3070 1)" font-size="12.29" font-weight="bold" stroke="#7f7f7f" stroke-width="0.3" fill="#7f7f7f">0</text>
<text transform="translate(602.96 496.75) rotate(-45) translate(-8.87 4.22) scale(1.1942 1)" font-size="12.29" font-weight="bold" stroke="#d62728" stroke-width="0.3" fill="#d62728">10</text>
<text transform="translate(645.21 527.5) rotate(-45) translate(-9.6 4.22) scale(1.3528 1)" font-size="12.29" font-weight="bold" stroke="#d62728" stroke-width="0.3" fill="#d62728">20</text>
<text transform="translate(689.71 557) rotate(-45) translate(-8.92 4.22) scale(1.2542 1)" font-size="12.29" font-weight="bold" stroke="#d62728" stroke-width="0.3" fill="#d62728">30</text>
<text transform="translate(733.46 587.25) rotate(-45) translate(-8.88 4.22) scale(1.2484 1)" font-size="12.29" font-weight="bold" stroke="#d62728" stroke-width="0.3" fill="#d62728">40</text>
<path d="M473.89 36.84 472.86 37.93 471.83 39.01 470.8 40.09 469.76 41.17 468.72 42.25 467.68 43.32 466.63 44.39 465.58 45.46 464.53 46.53 463.48 47.59 462.43 48.65 461.37 49.71 460.32 50.77 459.26 51.83 458.2 52.89 457.14 53.95 456.08 55 455.02 56.06 453.96 57.11 452.89 58.17 451.83 59.22 450.77 60.27 449.71 61.33 448.64 62.38 447.58 63.44 446.52 64.49 445.46 65.55 444.4 66.61 443.35 67.66 442.29 68.72 441.24 69.79 440.18 70.85 439.13 71.91 438.08 72.98 437.03 74.04 435.98 75.11 434.93 76.17 433.88 77.24 432.82 78.3 431.76 79.35 430.7 80.41 429.63 81.46 428.56 82.5 427.48 83.54 426.4 84.57 425.31 85.59 424.21 86.6 423.1 87.61 421.99 88.61 420.87 89.61 419.75 90.6 418.63 91.6 417.5 92.59 416.38 93.58 415.26 94.57 414.14 95.57 413.03 96.57 411.92 97.58 410.82 98.59 409.73 99.61 408.64 100.64 407.57 101.68 406.51 102.73 405.45 103.79 404.41 104.86 403.37 105.94 402.34 107.02 401.32 108.11 400.3 109.2 399.28 110.3 398.27 111.41 397.27 112.51 396.26 113.62 395.26 114.73 394.26 115.84 393.25 116.95 392.25 118.06 391.24 119.17 390.24 120.28 389.22 121.38 388.21 122.48 387.19 123.58 386.17 124.67 385.15 125.77 384.12 126.86 383.1 127.94 382.07 129.03 381.04 130.12 380.01 131.21 378.98 132.29 377.96 133.38 376.93 134.47 375.91 135.56 374.89 136.66 373.87 137.76 372.86 138.86 371.85 139.96 370.85 141.07 369.85 142.18 368.85 143.3 367.86 144.42 366.87 145.54 365.89 146.67 364.91 147.81 363.93 148.94 362.96 150.08 361.99 151.22 361.02 152.36 360.05 153.5 359.08 154.64 358.11 155.78 357.13 156.91 356.14 158.03 355.15 159.15 354.14 160.26 353.13 161.35 352.1 162.44 351.06 163.52 350.01 164.58 348.96 165.64 347.89 166.7 346.83 167.75 345.76 168.79 344.69 169.84 343.61 170.88 342.54 171.93 341.47 172.98 340.41 174.03 339.35 175.08 338.29 176.14 337.23 177.2 336.18 178.27 335.13 179.33 334.08 180.4 333.04 181.47 331.99 182.54 330.95 183.61 329.91 184.69 328.87 185.76 327.83 186.84 326.79 187.92 325.75 189 324.72 190.07 323.68 191.15 322.64 192.23 321.61 193.31 320.57 194.39 319.53 195.46 318.49 196.54 317.45 197.61 316.41 198.69 315.36 199.76 314.32 200.83 313.27 201.9 312.22 202.97 311.17 204.03 310.11 205.09 309.05 206.15 307.99 207.21 306.93 208.26 305.86 209.31 304.79 210.35 303.72 211.4 302.64 212.44 301.56 213.47 300.48 214.51 299.39 215.54 298.3 216.56 297.21 217.59 296.12 218.61 295.02 219.63 293.92 220.64 292.82 221.65 291.72 222.66 290.61 223.67 289.5 224.67 288.4 225.67 287.29 226.68 286.2 227.69 285.12 228.71 284.05 229.75 283.01 230.81 281.98 231.89 280.98 232.99 280 234.1 279.03 235.24 278.08 236.39 277.15 237.55 276.23 238.72 275.31 239.9 274.41 241.1 273.51 242.29 272.62 243.5 271.73 244.7 270.84 245.91 269.96 247.12 269.07 248.33 268.18 249.53 267.28 250.73 266.38 251.93 265.48 253.13 264.58 254.32 263.67 255.52 262.77 256.71 261.86 257.9 260.96 259.09 260.05 260.28 259.14 261.47 258.24 262.66 257.33 263.85 256.43 265.04 255.53 266.24 254.64 267.43 253.74 268.63 252.85 269.83 251.95 271.03 251.06 272.23 250.16 273.42 249.25 274.61 248.35 275.8 247.43 276.98 246.5 278.16 245.57 279.33 244.62 280.48 243.66 281.63 242.68 282.77 241.69 283.89 241 283.95 240.87 285.38 240.44 286.7 239.79 287.95 239.02 289.15 238.19 290.35 237.38 291.56 236.7 292.82 236.17 294.15 235.78 295.52 235.51 296.94 235.26 298.39 235.09 299.88 235.01 301.39 234.99 302.91 235.02 304.44 235.09 305.97 235.18 307.5 235.28 309.01 235.39 310.5 235.53 311.98 235.71 313.45 235.95 314.9 236.24 316.34 236.62 317.76 237.08 319.18 237.58 320.59 238.1 322 238.61 323.42 239.07 324.84 239.47 326.28 239.81 327.73 240.1 329.2 240.35 330.66 240.58 332.14 240.79 333.61 241 335.09 241.23 336.56 241.48 338.02 241.76 339.48 242.07 340.92 242.42 342.36 242.8 343.78 243.23 345.2 243.68 346.61 244.15 348.01 244.64 349.41 245.14 350.81 245.64 352.21 246.14 353.61 246.63 355.02 247.11 356.42 247.58 357.83 248.05 359.24 248.52 360.64 248.99 362.05 249.47 363.45 249.95 364.86 250.44 366.25 250.94 367.65 251.45 369.04 251.98 370.42 252.56 371.79 253.16 373.16 253.77 374.52 254.41 375.87 255.07 377.21 255.74 378.55 256.42 379.88 257.11 381.21 257.81 382.54 258.51 383.86 259.2 385.19 259.9 386.51 260.58 387.85 261.26 389.18 261.92 390.52 262.57 391.87 263.21 393.22 263.82 394.59 264.4 395.96 264.96 397.35 265.5 398.74 266.02 400.14 266.53 401.55 267.03 402.96 267.52 404.37 268.01 405.79 268.49 407.21 268.98 408.63 269.47 410.04 269.97 411.46 270.47 412.87 270.98 414.28 271.5 415.69 272.03 417.1 272.56 418.5 273.09 419.91 273.61 421.31 274.14 422.71 274.67 424.11 275.2 425.5 275.73 426.9 276.27 428.29 276.81 429.68 277.34 431.08 277.88 432.46 278.42 433.85 278.95 435.24 279.48 436.62 280.02 438.01 280.56 439.39 281.11 440.76 281.67 442.14 282.26 443.5 282.87 444.86 283.51 446.2 284.19 447.54 284.9 448.87 285.66 450.18 286.45 451.49 287.23 452.8 287.99 454.12 288.69 455.45 289.31 456.8 289.83 458.18 290.26 459.58 290.61 461 290.87 462.44 291.07 463.9 291.19 465.37 291.24 466.85 291.24 468.34 291.17 469.83 291.07 471.33 290.93 472.83 290.74 474.33 290.52 475.83 290.26 477.32 289.98 478.8 289.68 480.27 289.36 481.73 289.03 483.17 288.68 484.6 288.31 486.03 287.91 487.45 287.49 488.86 286.99 490.28 286.24 491.69 285.42 493.06 284.49 494.35 283.42 495.52 282.22 496.55 280.96 497.47 279.65 498.29 278.3 499.02 276.91 499.67 275.51 500.26 274.1 500.8 272.68 501.3 271.24 501.77 269.8 502.22 268.35 502.66 266.91 503.11 265.47 503.57 264.06 504.05 262.66 504.58 261.3 505.14 259.97 505.77 258.67 506.46 257.43 507.24 256.23 508.11" stroke="#ff0000" stroke-width="2.5" stroke-linejoin="round" stroke-linecap="square"/>
<path d="M361.09 36.85 360.18 38.04 359.28 39.23 358.36 40.42 357.45 41.61 356.54 42.8 355.63 43.99 354.72 45.18 353.8 46.37 352.89 47.56 351.98 48.75 351.07 49.94 350.16 51.13 349.25 52.32 348.35 53.52 347.44 54.71 346.54 55.91 345.64 57.11 344.74 58.31 343.85 59.51 342.96 60.72 342.07 61.93 341.19 63.14 340.31 64.35 339.43 65.57 338.56 66.79 337.69 68.01 336.83 69.24 335.97 70.47 335.11 71.7 334.27 72.94 333.42 74.18 332.59 75.43 331.76 76.68 330.94 77.93 330.14 79.2 329.35 80.48 328.59 81.76 327.84 83.06 327.13 84.38 326.44 85.71 325.79 87.05 325.17 88.41 324.57 89.79 323.99 91.17 323.42 92.56 322.86 93.95 322.31 95.35 321.75 96.75 321.19 98.15 320.63 99.54 320.05 100.93 319.47 102.31 318.87 103.68 318.26 105.05 317.63 106.41 316.99 107.76 316.32 109.1 315.63 110.43 314.92 111.74 314.18 113.04 313.41 114.32 312.61 115.59 311.78 116.84 310.92 118.08 310.05 119.3 309.15 120.52 308.24 121.73 307.33 122.93 306.4 124.13 305.48 125.33 304.56 126.52 303.65 127.73 302.75 128.93 301.86 130.15 301 131.38 300.15 132.61 299.34 133.86 298.56 135.13 297.81 136.42 297.1 137.72 296.42 139.04 295.78 140.38 295.16 141.73 294.58 143.1 294.02 144.48 293.49 145.88 292.98 147.28 292.5 148.7 292.04 150.13 291.61 151.57 291.19 153.01 290.79 154.47 290.4 155.93 290.03 157.4 289.66 158.87 289.3 160.34 288.92 161.8 288.53 163.26 288.12 164.7 287.69 166.14 287.22 167.55 286.71 168.95 286.16 170.32 285.55 171.67 284.89 172.99 284.16 174.27 283.38 175.53 282.54 176.77 281.67 177.98 280.75 179.17 279.81 180.36 278.85 181.53 277.88 182.69 276.89 183.86 275.91 185.02 274.94 186.19 273.98 187.37 273.05 188.56 272.14 189.76 271.27 190.98 270.42 192.22 269.61 193.47 268.82 194.74 268.06 196.02 267.32 197.32 266.62 198.63 265.93 199.96 265.27 201.29 264.64 202.64 264.02 204.01 263.43 205.38 262.85 206.77 262.3 208.16 261.75 209.56 261.21 210.96 260.67 212.37 260.14 213.78 259.6 215.18 259.05 216.58 258.5 217.98 257.92 219.36 257.33 220.74 256.72 222.11 256.1 223.47 255.49 224.83 254.88 226.2 254.29 227.57 253.73 228.96 253.18 230.36 252.63 231.75 252.08 233.15 251.5 234.53 250.88 235.89 250.22 237.23 249.52 238.55 248.78 239.85 248.02 241.15 247.24 242.43 246.44 243.7 245.64 244.97 244.83 246.24 244.03 247.51 243.24 248.79 242.46 250.08 241.71 251.37 240.96 252.66 240.19 253.94 239.39 255.19 238.54 256.39 237.61 257.54 236.59 258.61 235.47 259.61 234.28 260.57 233.05 261.5 231.83 262.43 230.64 263.4 229.52 264.44 228.51 265.57 227.64 266.82 226.95 268.19 226.47 269.64 226.22 271.1 226.23 272.53 226.54 273.87 227.17 275.06 228.08 276.1 229.23 277.01 230.54 277.82 231.98 278.52 233.47 279.16 234.96 279.74 236.41 280.3 237.77 280.92 238.99 281.67 240.04 282.62 240.88 283.85 240.99 283.95 240.73 285.38 240.17 286.7 239.4 287.95 238.5 289.15 237.57 290.35 236.67 291.56 235.9 292.82 235.27 294.15 234.78 295.52 234.42 296.94 234.15 298.39 233.99 299.88 233.9 301.39 233.87 302.91 233.9 304.44 233.97 305.97 234.05 307.5 234.15 309.01 234.26 310.5 234.4 311.98 234.58 313.45 234.8 314.9 235.1 316.34 235.47 317.76 235.92 319.18 236.42 320.59 236.94 322 237.45 323.42 237.91 324.84 238.31 326.28 238.64 327.73 238.93 329.2 239.17 330.66 239.4 332.14 239.61 333.61 239.82 335.09 240.04 336.56 240.28 338.02 240.56 339.48 240.89 340.92 241.26 342.36 241.68 343.78 242.13 345.2 242.61 346.61 243.11 348.01 243.63 349.41 244.15 350.81 244.68 352.21 245.21 353.61 245.73 355.02 246.23 356.42 246.74 357.83 247.24 359.24 247.74 360.64 248.24 362.05 248.74 363.45 249.25 364.86 249.76 366.25 250.29 367.65 250.83 369.04 251.38 370.42 251.95 371.79 252.54 373.16 253.15 374.52 253.78 375.87 254.43 377.21 255.1 378.55 255.77 379.88 256.46 381.21 257.15 382.54 257.84 383.86 258.53 385.19 259.21 386.51 259.89 387.85 260.56 389.18 261.21 390.52 261.85 391.87 262.46 393.22 263.05 394.59 263.62 395.96 264.16 397.35 264.68 398.74 265.19 400.14 265.68 401.55 266.16 402.96 266.63 404.37 267.1 405.79 267.56 407.21 268.03 408.63 268.5 410.04 268.98 411.46 269.47 412.87 269.96 414.28 270.46 415.69 270.97 417.1 271.48 418.5 271.99 419.91 272.51 421.31 273.03 422.71 273.56 424.11 274.09 425.5 274.62 426.9 275.15 428.29 275.69 429.68 276.22 431.08 276.75 432.46 277.29 433.85 277.82 435.24 278.35 436.62 278.88 438.01 279.42 439.39 279.96 440.76 280.53 442.14 281.11 443.5 281.72 444.86 282.36 446.2 283.03 447.54 283.75 448.87 284.5 450.18 285.29 451.49 286.07 452.8 286.82 454.12 287.52 455.45 288.13 456.8 288.65 458.18 289.08 459.58 289.43 461 289.69 462.44 289.88 463.9 290 465.37 290.05 466.85 290.04 468.34 289.97 469.83 289.86 471.33 289.7 472.83 289.5 474.33 289.26 475.83 288.99 477.32 288.69 478.8 288.38 480.27 288.04 481.73 287.69 483.17 287.33 484.6 286.95 486.03 286.54 487.45 286.1 488.86 285.64 490.28 285.13 491.69 284.54 493.06 283.84 494.35 282.97 495.52 281.94 496.55 280.79 497.47 279.54 498.29 278.23 499.02 276.88 499.67 275.51 500.26 274.1 500.8 272.68 501.3 271.24 501.77 269.8 502.22 268.35 502.66 266.91 503.11 265.47 503.57 264.06 504.05 262.66 504.58 261.3 505.14 259.97 505.77 258.67 506.46 257.43 507.24 256.23 508.11" stroke="#008000" stroke-width="2.5" stroke-linejoin="round" stroke-linecap="square"/>
</g>
<path d="M90.5 36.5H753.5V642.5H90.5Z" fill="none" stroke="#000" stroke-width="1.333" stroke-linecap="square"/>
<path d="M84.67 36.5H90.5M84.67 215.5H90.5M84.67 319.5H90.5M84.67 393.5H90.5M84.67 451.5H90.5M84.67 498.5H90.5M84.67 537.5H90.5M84.67 572.5H90.5M84.67 602.5H90.5M84.67 629.5H90.5M90.5 642.5V648.33M164.5 642.5V648.33M237.5 642.5V648.33M311.5 642.5V648.33M385.5 642.5V648.33M458.5 642.5V648.33M532.5 642.5V648.33M606.5 642.5V648.33M680.5 642.5V648.33M753.5 642.5V648.33" stroke="#000" stroke-width="1.333"/>
<text transform="translate(63 36.5) translate(-14.9 6.08) scale(1.0117 1)" font-size="17.66" fill="#000">100</text>
<text transform="translate(62.5 215.5) translate(-14.87 6.08) scale(1.0101 1)" font-size="17.66" fill="#000">200</text>
<text transform="translate(62.5 319.5) translate(-14.87 6.08) scale(1.0101 1)" font-size="17.66" fill="#000">300</text>
<text transform="translate(62 393.5) translate(-14.89 6.08) scale(1.0450 1)" font-size="17.66" fill="#000">400</text>
<text transform="translate(62.5 451.5) translate(-14.87 6.08) scale(1.0101 1)" font-size="17.66" fill="#000">500</text>
<text transform="translate(62.5 498.5) translate(-14.87 6.08) scale(1.0101 1)" font-size="17.66" fill="#000">600</text>
<text transform="translate(62.5 537.5) translate(-14.87 6.08) scale(1.0101 1)" font-size="17.66" fill="#000">700</text>
<text transform="translate(62.5 572.5) translate(-14.87 6.08) scale(1.0101 1)" font-size="17.66" fill="#000">800</text>
<text transform="translate(63 602.5) translate(-15.9 6.08) scale(1.0798 1)" font-size="17.66" fill="#000">900</text>
<text transform="translate(58 629.5) translate(-20.13 6.08) scale(1.0000 1)" font-size="17.66" fill="#000">1000</text>
<text transform="translate(90 661.5) translate(-16.54 6.08) scale(1.1046 1)" font-size="17.66" fill="#000">−40</text>
<text transform="translate(164 661.5) translate(-16.54 6.08) scale(1.1046 1)" font-size="17.66" fill="#000">−30</text>
<text transform="translate(238 661.5) translate(-16.54 6.08) scale(1.1046 1)" font-size="17.66" fill="#000">−20</text>
<text transform="translate(311 661.5) translate(-16.54 6.08) scale(1.1046 1)" font-size="17.66" fill="#000">−10</text>
<text transform="translate(385.5 661.5) translate(-5.3 6.08) scale(1.0816 1)" font-size="17.66" fill="#000">0</text>
<text transform="translate(459.5 661.5) translate(-9.51 6.08) scale(0.9170 1)" font-size="17.66" fill="#000">10</text>
<text transform="translate(532 661.5) translate(-9.54 6.08) scale(0.9710 1)" font-size="17.66" fill="#000">20</text>
<text transform="translate(606 661.5) translate(-9.54 6.08) scale(0.9710 1)" font-size="17.66" fill="#000">30</text>
<text transform="translate(679.5 661.5) translate(-9.59 6.08) scale(0.9761 1)" font-size="17.66" fill="#000">40</text>
<text transform="translate(753 661.5) translate(-9.54 6.08) scale(0.9710 1)" font-size="17.66" fill="#000">50</text>
<text transform="translate(421 688) translate(-70.87 4.08) scale(1.0531 1)" font-size="17.66" fill="#000">Temperature (°C)</text>
<text transform="translate(18.9 340.05) rotate(-90) translate(-60.43 4.18) scale(1.0022 1)" font-size="17.66" fill="#000">Pressure (hPa)</text>
<text transform="translate(421.5 21) translate(-168.1 5.07) scale(1.0404 1)" font-size="21.19" fill="#000">wetPf2_S206.2025.302.02.21.R15</text>
</svg></body></html>
